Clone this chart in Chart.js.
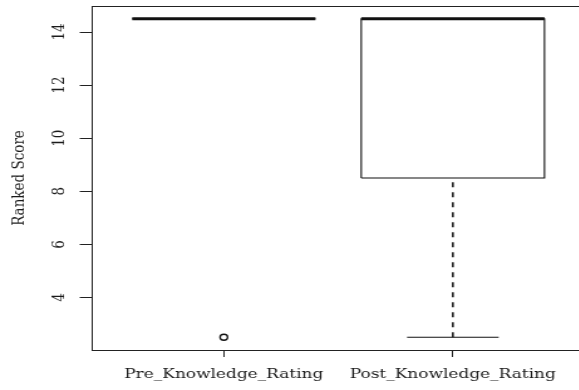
<!DOCTYPE html>
<html>
<head>
<meta charset="utf-8">
<script src="https://cdn.jsdelivr.net/npm/chart.js@4/dist/chart.umd.min.js"></script>
<style>
  html, body { margin: 0; padding: 0; background: #fff; width: 579px; height: 390px; overflow: hidden; }
  #wrap { position: absolute; left: 0; top: 0; width: 472px; height: 390px; transform: scaleX(1.255); transform-origin: 0 0; }
</style>
</head>
<body>
<div id="wrap"><canvas id="c"></canvas></div>
<script>
// Ranked knowledge scores before and after, as box-and-whisker summaries
const categories = ['Pre_Knowledge_Rating', 'Post_Knowledge_Rating'];
const lowerWhisker = [14.5, 2.5];
const lowerQuartile = [14.5, 8.5];
const medianValue = [14.5, 14.5];
const upperQuartile = [14.5, 14.5];
const upperWhisker = [14.5, 14.5];
const outlierValues = [[2.5], []];
const yTickValues = [4, 6, 8, 10, 12, 14];

const BOX_HALF = 0.4;
const CAP_HALF = 0.2;
const INK = '#111';
const FONT = 'DejaVu Serif';

const datasets = [];
const line = (data, extra) => Object.assign({
  type: 'line', data, showLine: true, pointRadius: 0, borderColor: INK,
  borderWidth: 1.1, fill: false, tension: 0, order: 5
}, extra);

categories.forEach((name, i) => {
  const x = i + 1;
  datasets.push(line([{x, y: lowerWhisker[i]}, {x, y: lowerQuartile[i]}], {borderDash: [5, 5], borderWidth: 1.5, order: 6}));
  datasets.push(line([{x, y: upperQuartile[i]}, {x, y: upperWhisker[i]}], {borderDash: [5, 5], borderWidth: 1.5, order: 6}));
  datasets.push(line([{x: x - CAP_HALF, y: lowerWhisker[i]}, {x: x + CAP_HALF, y: lowerWhisker[i]}], {order: 6}));
  datasets.push(line([{x: x - CAP_HALF, y: upperWhisker[i]}, {x: x + CAP_HALF, y: upperWhisker[i]}], {order: 6}));
  datasets.push(line([
    {x: x - BOX_HALF, y: lowerQuartile[i]}, {x: x + BOX_HALF, y: lowerQuartile[i]},
    {x: x + BOX_HALF, y: upperQuartile[i]}, {x: x - BOX_HALF, y: upperQuartile[i]},
    {x: x - BOX_HALF, y: lowerQuartile[i]}
  ], {order: 4}));
  datasets.push(line([{x: x - BOX_HALF, y: medianValue[i]}, {x: x + BOX_HALF, y: medianValue[i]}], {borderWidth: 3.2, order: 1}));
  datasets.push({
    type: 'scatter', data: outlierValues[i].map(v => ({x, y: v})), showLine: false,
    pointStyle: 'circle', pointRadius: 3, borderWidth: 1.3, borderColor: INK,
    backgroundColor: 'rgba(0,0,0,0)', order: 2
  });
});

const framePlugin = {
  id: 'frame',
  afterDraw(chart) {
    const {ctx, chartArea: a} = chart;
    ctx.save();
    ctx.strokeStyle = '#222';
    ctx.lineWidth = 1;
    ctx.strokeRect(Math.round(a.left) + 0.5, Math.round(a.top) + 0.5,
                   Math.round(a.right - a.left), Math.round(a.bottom - a.top));
    ctx.restore();
  }
};

new Chart(document.getElementById('c'), {
  type: 'line',
  data: { datasets },
  options: {
    responsive: true,
    maintainAspectRatio: false,
    animation: false,
    layout: { padding: { top: 6, right: 5, bottom: 0, left: 0 } },
    plugins: { legend: { display: false }, tooltip: { enabled: false } },
    scales: {
      x: {
        type: 'linear', min: 0.42, max: 2.58,
        afterBuildTicks: s => { s.ticks = categories.map((c, i) => ({value: i + 1})); },
        afterFit: s => { s.height = 40; s.paddingLeft = 0; s.paddingRight = 0; },
        ticks: {
          callback: v => categories[v - 1] ?? '',
          color: '#1b1b1b', font: {family: FONT, size: 13.5}, padding: 9, maxRotation: 0, autoSkip: false
        },
        grid: { drawOnChartArea: false, tickLength: 7, color: '#222', tickWidth: 1 },
        border: { display: false }
      },
      y: {
        type: 'linear', min: 2.02, max: 14.98,
        afterBuildTicks: s => { s.ticks = yTickValues.map(v => ({value: v})); },
        afterFit: s => { s.width = 72.5; s.paddingTop = 0; s.paddingBottom = 0; },
        ticks: {
          color: '#1b1b1b', font: {family: FONT, size: 13.5}, minRotation: 90, maxRotation: 90,
          crossAlign: 'center', padding: 7
        },
        grid: { drawOnChartArea: false, tickLength: 9, color: '#222', tickWidth: 1 },
        border: { display: false },
        title: {
          display: true, text: 'Ranked Score', color: '#1b1b1b',
          font: {family: FONT, size: 13.5}, padding: {top: 7, bottom: 0}
        }
      }
    }
  },
  plugins: [framePlugin]
});
</script>
</body>
</html>
